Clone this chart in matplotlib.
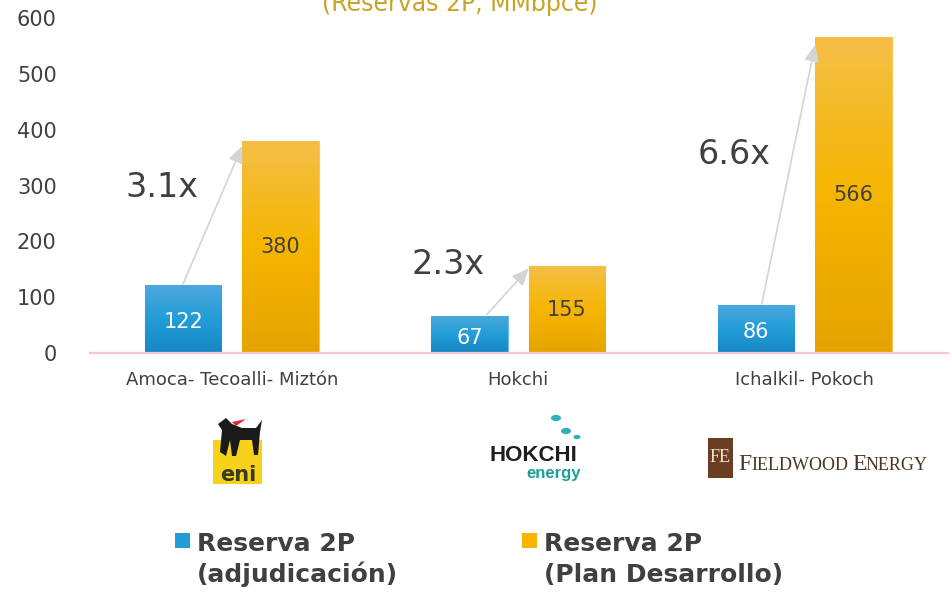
import numpy as np
import matplotlib.pyplot as plt
from matplotlib.patches import Rectangle, Circle, Polygon
from matplotlib.colors import LinearSegmentedColormap

# data
campos = ['Amoca- Tecoalli- Miztón', 'Hokchi', 'Ichalkil- Pokoch']
reserva_adj = [122, 67, 86]       # Reserva 2P (adjudicación)
reserva_plan = [380, 155, 566]    # Reserva 2P (Plan Desarrollo)
serie_labels = [('Reserva 2P', '(adjudicación)'), ('Reserva 2P', '(Plan Desarrollo)')]
yticks = [0, 100, 200, 300, 400, 500, 600]

TXT = '#404040'
plt.rcParams['font.family'] = ['DejaVu Sans']

W, H = 953, 593
fig = plt.figure(figsize=(W / 100, H / 100), dpi=100)
ax = fig.add_axes([90 / W, 1 - 353 / H, 858 / W, 335 / H])

blue_cmap = LinearSegmentedColormap.from_list('b', ['#1787c4', '#239dd8', '#4ea8dc'])
gold_cmap = LinearSegmentedColormap.from_list('g', ['#e6a400', '#f6b500', '#f4bf48'])

x = np.arange(len(campos))
w = 0.268
off = 0.17
bars_b = ax.bar(x - off, reserva_adj, w, color='#239dd8', edgecolor='#6cbbe6', linewidth=0.8, zorder=2)
bars_g = ax.bar(x + off, reserva_plan, w, color='#f6b500', edgecolor='#f7c84a', linewidth=0.8, zorder=2)

grad = np.linspace(0, 1, 100).reshape(-1, 1)
for bars, cmap in [(bars_b, blue_cmap), (bars_g, gold_cmap)]:
    for b in bars:
        x0, h = b.get_x(), b.get_height()
        im = ax.imshow(grad, cmap=cmap, aspect='auto', origin='lower',
                       extent=(x0, x0 + b.get_width(), 0, h), zorder=2.5)
        im.set_clip_path(b)

ax.set_xlim(-0.495, 2.5)
ax.set_ylim(0, 600)
ax.set_yticks(yticks)
ax.tick_params(axis='y', length=0, pad=24, labelsize=15, labelcolor=TXT)
ax.set_xticks(x)
ax.set_xticklabels(campos)
ax.tick_params(axis='x', length=0, pad=13, labelsize=13, labelcolor=TXT)
for s in ['top', 'right', 'left']:
    ax.spines[s].set_visible(False)
ax.spines['bottom'].set_color('#f3c6d6')
ax.spines['bottom'].set_linewidth(1.6)

# values inside bars
for b, v in zip(bars_b, reserva_adj):
    ax.text(b.get_x() + b.get_width() / 2, v / 2 - 6, str(v), ha='center', va='center',
            fontsize=15, color='white', zorder=4)
for b, v in zip(bars_g, reserva_plan):
    ax.text(b.get_x() + b.get_width() / 2, v / 2, str(v), ha='center', va='center',
            fontsize=15, color=TXT, zorder=4)

# growth arrows and multipliers
mult_y = [296, 158, 355]
start_dx = [0.0, 0.06, 0.02]
for i in range(len(campos)):
    bb, bg = bars_b[i], bars_g[i]
    sx = bb.get_x() + bb.get_width() / 2 + start_dx[i]
    ax.annotate('', xy=(bg.get_x(), reserva_plan[i] * 0.975), xytext=(sx, reserva_adj[i] + 2),
                arrowprops=dict(arrowstyle='-|>,head_length=1.0,head_width=0.45',
                                color='#d4d4d4', lw=1.2, shrinkA=0, shrinkB=0), zorder=3)
    ax.text(x[i] - 0.245, mult_y[i], f'{reserva_plan[i] / reserva_adj[i]:.1f}x',
            ha='center', va='center', fontsize=24, color=TXT)

# title (cut at the top, as in the slide)
fig.text(460 / W, 1 - 11 / H, '(Reservas 2P, MMbpce)', ha='center', va='baseline',
         fontsize=17, color='#c9a227')

# logos approximated
ft = fig.transFigure
def fx(px): return px / W
def fy(py): return 1 - py / H

# eni
fig.patches.append(Rectangle((fx(213), fy(484)), 49 / W, 44 / H, transform=ft,
                             facecolor='#f6d21c', edgecolor='none'))
fig.text(fx(238), fy(481), 'eni', ha='center', va='baseline', fontsize=15,
         fontweight='bold', color='#3a3a1a')
dog = [(220, 452), (222, 430), (218, 424), (226, 418), (232, 424), (242, 428), (256, 428),
       (262, 420), (260, 432), (258, 455), (254, 455), (252, 440), (240, 440), (236, 456),
       (232, 456), (230, 440), (226, 456)]
fig.patches.append(Polygon([(fx(a), fy(b)) for a, b in dog], closed=True, transform=ft,
                           facecolor='#1a1a1a', edgecolor='none'))
fig.patches.append(Polygon([(fx(a), fy(b)) for a, b in [(232, 422), (246, 419), (236, 426)]],
                           closed=True, transform=ft, facecolor='#e2283c', edgecolor='none'))

# hokchi
for cx, cy, r in [(556, 418, 5), (566, 431, 5), (577, 437, 3.5)]:
    fig.patches.append(Circle((fx(cx), fy(cy)), r / W, transform=ft,
                              facecolor='#2bb0c0', edgecolor='none'))
fig.text(fx(533), fy(461), 'HOKCHI', ha='center', va='baseline', fontsize=16,
         fontweight='bold', color='#1e1e1e', family='Liberation Sans')
fig.text(fx(581), fy(478), 'energy', ha='right', va='baseline', fontsize=12,
         fontweight='bold', color='#1f9e9a', family='Liberation Sans')

# fieldwood
fig.patches.append(Rectangle((fx(708), fy(478)), 25 / W, 40 / H, transform=ft,
                             facecolor='#6b3e22', edgecolor='none'))
fig.text(fx(720.5), fy(458), 'FE', ha='center', va='center', fontsize=13,
         color='#f2e6d0', family='Liberation Serif')
for px, s, size in [(738, 'F', 17), (751, 'IELDWOOD', 13), (852, 'E', 17), (866, 'NERGY', 13)]:
    fig.text(fx(px), fy(470), s, ha='left', va='baseline', fontsize=size,
             color='#4a3626', family='Liberation Serif')

# legend
for (sx, (l1, l2), col) in [(175, serie_labels[0], '#239dd8'), (522, serie_labels[1], '#f6b500')]:
    fig.patches.append(Rectangle((fx(sx), fy(548)), 15 / W, 15 / H, transform=ft,
                                 facecolor=col, edgecolor='none'))
    fig.text(fx(sx + 22), fy(551), l1, ha='left', va='baseline', fontsize=18,
             fontweight='bold', color=TXT)
    fig.text(fx(sx + 22), fy(582), l2, ha='left', va='baseline', fontsize=18,
             fontweight='bold', color=TXT)

fig.savefig('out.png', dpi=100)
